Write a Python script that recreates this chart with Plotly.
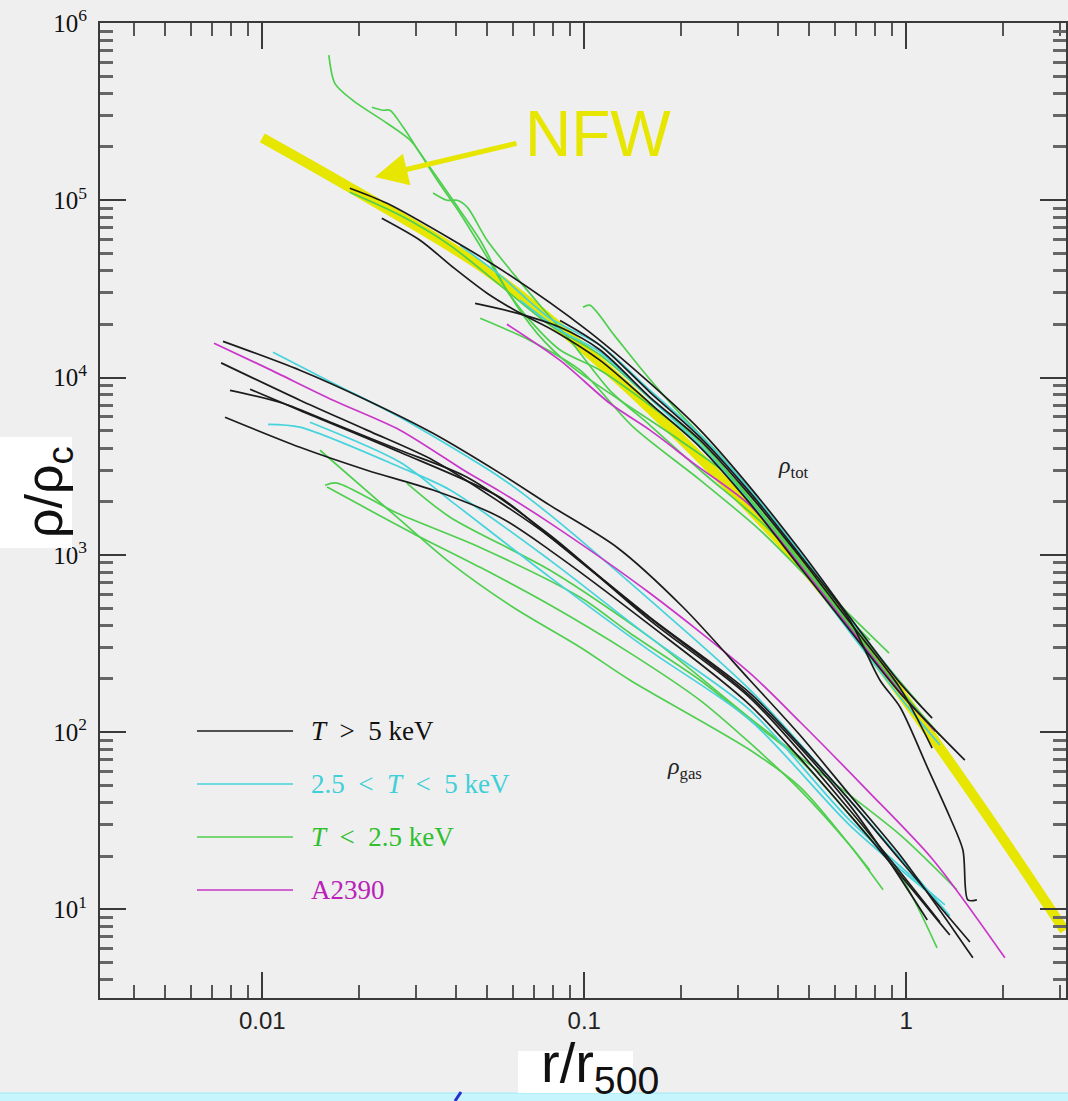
import plotly.graph_objects as go

# ---------------- data (r / r500 , rho / rho_c) ----------------
nfw_r = [0.01, 0.02, 0.05, 0.1, 0.2, 0.5, 1.0, 2.0, 3.1]
nfw_rho = [2.25e5, 1.1e5, 4.0e4, 1.45e4, 4.5e3, 780, 150, 25, 7.6]

# total density profiles
tot_black_r = [
    [0.0187, 0.0244, 0.0391, 0.0575, 0.102, 0.160, 0.229, 0.327, 0.468, 0.668, 0.957, 1.203],
    [0.0235, 0.0309, 0.0391, 0.0499, 0.0631, 0.0800, 0.112, 0.160, 0.229, 0.327, 0.468, 0.668, 0.957, 1.52],
    [0.0458, 0.0618, 0.0841, 0.112, 0.160, 0.229, 0.327, 0.468, 0.668, 0.957, 1.203],
    [0.0841, 0.112, 0.160, 0.229, 0.327, 0.468, 0.668, 0.8285, 0.957, 1.162, 1.365, 1.499, 1.553, 1.656],
]
tot_black_rho = [
    [1.17e5, 9.62e4, 5.95e4, 3.87e4, 1.85e4, 9.29e3, 5.05e3, 2.41e3, 1.06e3, 444, 189, 120],
    [7.92e4, 5.95e4, 4.19e4, 2.99e4, 2.31e4, 1.85e4, 1.25e4, 7.16e3, 4.04e3, 1.95e3, 850, 375, 166, 69.5],
    [2.62e4, 2.31e4, 1.92e4, 1.43e4, 7.74e3, 4.43e3, 2.17e3, 969, 416, 177, 81.3],
    [2.10e4, 1.52e4, 8.26e3, 4.60e3, 2.25e3, 995, 427, 196, 138, 63.5, 33.2, 21.6, 11.3, 11.3],
]
tot_cyan_r = [
    [0.0411, 0.0547, 0.0783, 0.112, 0.160, 0.229, 0.327, 0.468, 0.668, 0.957],
    [0.0631, 0.0841, 0.112, 0.160, 0.229, 0.327, 0.468, 0.668, 0.957, 1.271],
]
tot_cyan_rho = [
    [5.57e4, 3.78e4, 2.16e4, 1.52e4, 8.47e3, 4.73e3, 2.32e3, 1.02e3, 438, 189],
    [2.73e4, 1.85e4, 1.39e4, 7.64e3, 4.15e3, 1.98e3, 861, 366, 157, 84.6],
]
tot_green_r = [
    [0.0161, 0.0168, 0.0191, 0.0244, 0.0288, 0.0332, 0.0391, 0.0475, 0.0575, 0.0713, 0.0904,
     0.129, 0.198, 0.305, 0.468, 0.668, 0.957, 1.229],
    [0.0219, 0.0237, 0.0249, 0.0274, 0.0309, 0.0349, 0.0411, 0.0499, 0.0575, 0.0678, 0.0841,
     0.112, 0.160, 0.229, 0.327, 0.468, 0.668, 0.957],
    [0.0339, 0.0375, 0.0403, 0.0433, 0.0499, 0.0601, 0.0728, 0.0904, 0.120, 0.160, 0.229, 0.369, 0.580, 0.884],
    [0.0991, 0.104, 0.124, 0.149, 0.194, 0.264, 0.378, 0.540, 0.771, 1.104],
    [0.0187, 0.0268, 0.0383, 0.0547, 0.0783, 0.112, 0.160, 0.229, 0.327, 0.468, 0.668, 0.957, 1.271],
    [0.0475, 0.0678, 0.0971, 0.142, 0.229, 0.351, 0.540, 0.771],
]
tot_green_rho = [
    [6.58e5, 4.57e5, 3.66e5, 2.72e5, 2.18e5, 1.53e5, 1.0e5, 5.95e4, 3.10e4, 1.78e4, 1.17e4,
     7.45e3, 4.43e3, 2.47e3, 931, 401, 173, 103],
    [3.35e5, 3.22e5, 3.22e5, 2.58e5, 1.84e5, 1.30e5, 8.45e4, 4.77e4, 3.10e4, 2.10e4, 1.43e4,
     1.10e4, 6.98e3, 4.15e3, 2.03e3, 873, 385, 173],
    [1.10e5, 1.0e5, 1.0e5, 9.14e4, 5.95e4, 3.87e4, 2.56e4, 1.62e4, 8.47e3, 5.38e3, 3.00e3, 1.43e3, 592, 279],
    [2.49e4, 2.56e4, 1.73e4, 1.14e4, 6.53e3, 3.65e3, 1.68e3, 720, 309, 142],
    [1.11e5, 8.22e4, 5.57e4, 3.32e4, 1.97e4, 1.34e4, 7.64e3, 4.32e3, 2.08e3, 908, 396, 173, 95.9],
    [2.16e4, 1.62e4, 1.10e4, 5.25e3, 2.64e3, 1.38e3, 631, 330],
]
tot_a2390_r = [0.0575, 0.0841, 0.120, 0.160, 0.218, 0.327, 0.468, 0.668, 0.957, 1.229]
tot_a2390_rho = [2.0e4, 1.25e4, 7.16e3, 5.05e3, 3.29e3, 1.90e3, 873, 385, 168, 101]

# gas density profiles
gas_black_r = [
    [0.00755, 0.01309, 0.02113, 0.0339, 0.0547, 0.0783, 0.1265, 0.2027, 0.327, 0.468, 0.668, 0.957, 1.271, 1.610],
    [0.00745, 0.01309, 0.02113, 0.0339, 0.0547, 0.0783, 0.160, 0.327, 0.468, 0.668, 0.957, 1.576],
    [0.00794, 0.01159, 0.01659, 0.02679, 0.04325, 0.0783, 0.160, 0.327, 0.668, 1.271],
    [0.00916, 0.01309, 0.02679, 0.0547, 0.0783, 0.160, 0.327, 0.668, 1.162],
    [0.00766, 0.01309, 0.02113, 0.0339, 0.0547, 0.0783, 0.160, 0.327, 0.668, 1.365],
]
gas_black_rho = [
    [1.60e4, 1.10e4, 7.45e3, 4.85e3, 2.89e3, 1.90e3, 1.10e3, 506, 196, 95.9, 44.1, 20.2, 9.9, 5.33],
    [1.21e4, 7.45e3, 5.05e3, 3.42e3, 1.98e3, 1.26e3, 444, 166, 84.4, 41.2, 19.0, 6.55],
    [8.47e3, 7.16e3, 5.52e3, 3.89e3, 2.74e3, 1.29e3, 427, 156, 36.2, 8.49],
    [8.59e3, 6.53e3, 3.79e3, 2.11e3, 1.26e3, 439, 160, 38.6, 8.71],
    [5.97e3, 4.04e3, 3.00e3, 2.32e3, 1.63e3, 1.06e3, 401, 142, 34.0, 7.16],
]
gas_cyan_r = [
    [0.0108, 0.01659, 0.02679, 0.0547, 0.0783, 0.160, 0.327, 0.668, 1.365],
    [0.01042, 0.01309, 0.02679, 0.0383, 0.0783, 0.160, 0.327, 0.668, 1.318],
    [0.01407, 0.02679, 0.0383, 0.0783, 0.160, 0.327, 0.668, 1.143],
]
gas_cyan_rho = [
    [1.39e4, 9.29e3, 5.97e3, 2.74e3, 1.68e3, 555, 173, 41.2, 9.19],
    [5.45e3, 5.25e3, 3.12e3, 2.32e3, 931, 342, 133, 31.8, 10.6],
    [5.60e3, 3.33e3, 2.03e3, 746, 287, 117, 29.8, 12.9],
]
gas_green_r = [
    [0.01511, 0.0262, 0.0375, 0.0601, 0.0971, 0.1388, 0.327, 0.468, 0.668, 0.847],
    [0.01566, 0.01706, 0.0262, 0.0475, 0.0971, 0.1388, 0.229, 0.327, 0.468, 0.668, 0.957, 1.246],
    [0.0281, 0.0383, 0.0783, 0.160, 0.327, 0.528, 0.957, 1.435],
    [0.0159, 0.0294, 0.0475, 0.0766, 0.1388, 0.229, 0.327, 0.468, 0.668, 0.771],
]
gas_green_rho = [
    [3.89e3, 1.63e3, 931, 506, 301, 196, 79.2, 49.0, 23.0, 12.9],
    [2.47e3, 2.54e3, 1.72e3, 1.10e3, 576, 361, 196, 117, 69.5, 34.0, 15.6, 6.06],
    [2.54e3, 1.63e3, 818, 342, 120, 61.0, 26.3, 12.9],
    [2.41e3, 1.32e3, 850, 533, 279, 151, 86.8, 47.1, 23.0, 16.6],
]
gas_a2390_r = [0.00708, 0.01034, 0.01659, 0.02679, 0.04325, 0.0547, 0.0783, 0.160, 0.327, 0.468, 0.755, 1.212, 2.024]
gas_a2390_rho = [1.56e4, 1.13e4, 7.45e3, 5.05e3, 2.92e3, 2.28e3, 1.51e3, 607, 215, 114, 47.1, 19.0, 5.33]

legend_labels = ["<i>T</i>&nbsp; &gt; &nbsp;5 keV",
                 "2.5&nbsp; &lt; &nbsp;<i>T</i>&nbsp; &lt; &nbsp;5 keV",
                 "<i>T</i>&nbsp; &lt; &nbsp;2.5 keV",
                 "A2390"]
x_tick_vals = [0.01, 0.1, 1]
x_tick_text = ["0.01", "0.1", "1"]
y_tick_vals = [1e1, 1e2, 1e3, 1e4, 1e5, 1e6]
y_tick_text = ["10<sup>1</sup>", "10<sup>2</sup>", "10<sup>3</sup>", "10<sup>4</sup>", "10<sup>5</sup>", "10<sup>6</sup>"]

# ---------------- styling ----------------
BG = "#efefef"
C_BLACK = "#1c1c1c"
C_CYAN = "#45d3dc"
C_GREEN = "#4fcf4f"
C_MAG = "#c936c9"
C_NFW = "#e6e600"
LW = 1.7

fig = go.Figure()

fig.add_trace(go.Scatter(x=nfw_r, y=nfw_rho, mode="lines", line=dict(color=C_NFW, width=10, shape="spline"),
                         showlegend=False, hoverinfo="skip", name="NFW"))


def add_group(rs, rhos, color, name):
    for r, rho in zip(rs, rhos):
        fig.add_trace(go.Scatter(x=r, y=rho, mode="lines",
                                 line=dict(color=color, width=LW, shape="spline", smoothing=0.8),
                                 showlegend=False, hoverinfo="skip", name=name))


add_group(tot_green_r, tot_green_rho, C_GREEN, "T<2.5")
add_group(gas_green_r, gas_green_rho, C_GREEN, "T<2.5")
add_group(tot_cyan_r, tot_cyan_rho, C_CYAN, "2.5<T<5")
add_group(gas_cyan_r, gas_cyan_rho, C_CYAN, "2.5<T<5")
add_group([tot_a2390_r, gas_a2390_r], [tot_a2390_rho, gas_a2390_rho], C_MAG, "A2390")
add_group(tot_black_r, tot_black_rho, C_BLACK, "T>5")
add_group(gas_black_r, gas_black_rho, C_BLACK, "T>5")

# minor tick positions (axis decoration)
x_minor = [m * 10.0 ** e for e in range(-3, 1) for m in range(2, 10) if 0.0031 < m * 10.0 ** e < 3.15]
y_minor = [m * 10.0 ** e for e in range(0, 6) for m in range(2, 10) if 3.1 < m * 10.0 ** e < 1e6]

axis_common = dict(showgrid=False, zeroline=False, showline=True, linecolor="#3a3a3a", linewidth=2,
                   mirror="allticks", ticks="inside", ticklen=26, tickwidth=2, tickcolor="#3a3a3a")

fig.update_xaxes(type="log", range=[-2.504, 0.496], tickmode="array", tickvals=x_tick_vals, ticktext=x_tick_text,
                 tickfont=dict(family="Liberation Sans", size=24, color="#222"), ticklabelstandoff=0,
                 minor=dict(tickmode="array", tickvals=x_minor, ticks="inside", ticklen=13, tickwidth=2,
                            tickcolor="#555", showgrid=False),
                 **axis_common)
fig.update_yaxes(type="log", range=[0.5, 6.0], tickmode="array", tickvals=y_tick_vals, ticktext=y_tick_text,
                 tickfont=dict(family="Liberation Serif", size=25, color="#111"), ticklabelstandoff=6,
                 minor=dict(tickmode="array", tickvals=y_minor, ticks="inside", ticklen=13, tickwidth=3,
                            tickcolor="#666", showgrid=False),
                 **axis_common)

W, H = 1068, 1101
L, R, T, B = 100, 2, 23, 103
PW, PH = W - L - R, H - T - B


def px(x):
    return (x - L) / PW


def py(y):
    return (H - B - y) / PH


shapes = []
annotations = []

# background decorations: bottom strip, white title boxes
shapes.append(dict(type="rect", xref="paper", yref="paper", x0=px(-2), x1=px(1070), y0=py(1103), y1=py(1093),
                   fillcolor="#c6f5fd", line=dict(width=1, color="#9ee9f6"), layer="above"))
shapes.append(dict(type="rect", xref="paper", yref="paper", x0=px(0), x1=px(72), y0=py(548), y1=py(437),
                   fillcolor="white", line=dict(width=0), layer="above"))
shapes.append(dict(type="rect", xref="paper", yref="paper", x0=px(518), x1=px(633), y0=py(1093), y1=py(1051),
                   fillcolor="white", line=dict(width=0), layer="above"))
shapes.append(dict(type="line", xref="paper", yref="paper", x0=px(455), x1=px(461), y0=py(1101), y1=py(1092),
                   line=dict(width=3, color="#2b2bd0"), layer="above"))

# legend
leg_colors = [C_BLACK, C_CYAN, C_GREEN, C_MAG]
leg_text_colors = ["#111111", "#3fcfd8", "#2fbf2f", "#b822b8"]
leg_y = [731, 784, 837, 890]
for lab, lc, tc, yy in zip(legend_labels, leg_colors, leg_text_colors, leg_y):
    shapes.append(dict(type="line", xref="paper", yref="paper", x0=px(197), x1=px(293), y0=py(yy), y1=py(yy),
                       line=dict(color=lc, width=LW)))
    annotations.append(dict(xref="paper", yref="paper", x=px(309), y=py(yy), xanchor="left", yanchor="middle",
                            text=lab, showarrow=False,
                            font=dict(family="Liberation Serif", size=27, color=tc)))


def label(x, y, text, size, color, family, angle=0):
    annotations.append(dict(xref="paper", yref="paper", x=px(x), y=py(y), xanchor="center", yanchor="middle",
                            text=text, showarrow=False, textangle=angle,
                            font=dict(family=family, size=size, color=color)))


# region labels
label(793, 467, "<i>ρ</i><sub>tot</sub>", 24, "#222", "Liberation Serif")
label(684, 768, "<i>ρ</i><sub>gas</sub>", 24, "#222", "Liberation Serif")

# NFW label + arrow
label(598, 134, "NFW", 64, C_NFW, "Liberation Sans")
annotations.append(dict(xref="paper", yref="paper", x=px(375), y=py(177), text="", showarrow=True,
                        ax=143, ay=-34, arrowhead=2, arrowsize=1.3, arrowwidth=5, arrowcolor=C_NFW, standoff=0))

# axis titles
label(48, 492, "ρ/ρ<sub>c</sub>", 52, "#111", "Liberation Sans", angle=-90)
label(600, 1066, "r/r<sub>500</sub>", 56, "#111", "Liberation Sans")

fig.update_layout(width=W, height=H, margin=dict(l=L, r=R, t=T, b=B, autoexpand=False),
                  paper_bgcolor=BG, plot_bgcolor=BG, showlegend=False,
                  shapes=shapes, annotations=annotations)

fig.write_html("out.html")
